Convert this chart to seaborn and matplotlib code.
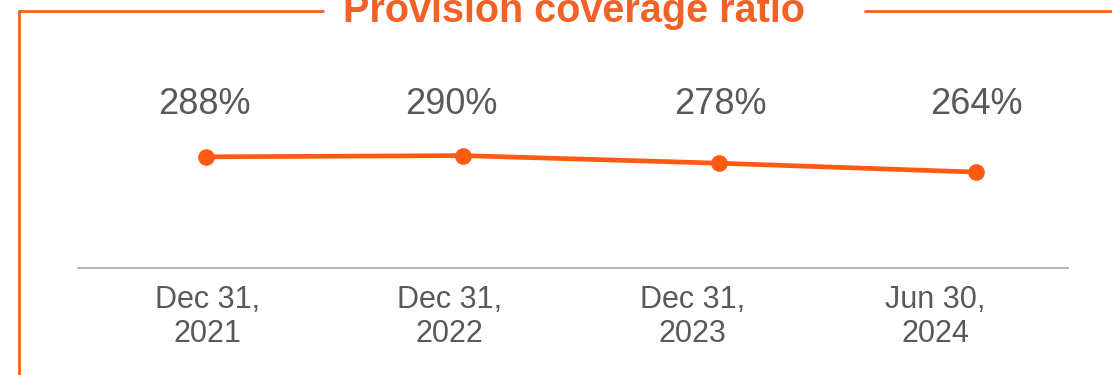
import matplotlib
matplotlib.use("Agg")
import matplotlib.pyplot as plt
from matplotlib.lines import Line2D
from matplotlib.transforms import blended_transform_factory, offset_copy
import seaborn as sns
import pandas as pd

# Provision coverage ratio by reporting date (%)
periods = ["Dec 31,\n2021", "Dec 31,\n2022", "Dec 31,\n2023", "Jun 30,\n2024"]
ratios = [288, 290, 278, 264]
value_labels = ["288%", "290%", "278%", "264%"]
title = "Provision coverage ratio"

# small horizontal nudges (pixels) for the value labels
label_nudge_px = [-2, -11, 1, 1]

ORANGE = "#F26125"
LINE_ORANGE = "#FF5A12"
GRAY_TEXT = "#595959"
GRAY_AXIS = "#A6A6A6"

sns.set_theme(style="white")
plt.rcParams["font.family"] = ["Liberation Sans", "DejaVu Sans"]

W, H = 1112, 375
fig = plt.figure(figsize=(W / 100, H / 100), dpi=100)
fig.patch.set_facecolor("white")


def fx(px):
    return px / W


def fy(py):
    return (H - py) / H


ax = fig.add_axes([fx(78), fy(268), fx(1068) - fx(78), fy(40) - fy(268)])
ax.set_facecolor("none")

df = pd.DataFrame({"pos": range(len(periods)), "ratio": ratios})
sns.lineplot(data=df, x="pos", y="ratio", ax=ax, color=LINE_ORANGE,
             linewidth=3.4, marker="o", markersize=12,
             markeredgewidth=0, markerfacecolor=LINE_ORANGE)

ax.set_xlim(-0.5, 3.36)
ax.set_ylim(113, 472)
ax.set_xticks([])
ax.set_yticks([])
ax.set_xlabel("")
ax.set_ylabel("")

for side in ["top", "left", "right"]:
    ax.spines[side].set_visible(False)
ax.spines["bottom"].set_color(GRAY_AXIS)
ax.spines["bottom"].set_linewidth(1.2)

# Category axis for the date labels
cat = ax.twiny()
cat.set_xlim(-0.532, 3.548)
cat.xaxis.set_ticks_position("bottom")
cat.xaxis.set_label_position("bottom")
cat.set_xticks(range(len(periods)))
cat.set_xticklabels(periods, fontsize=22, color=GRAY_TEXT, linespacing=1.18)
cat.tick_params(axis="x", length=0, pad=12)
for side in ["top", "left", "right", "bottom"]:
    cat.spines[side].set_visible(False)

# Value labels at a common height above the line
trans = blended_transform_factory(ax.transData, fig.transFigure)
for i, lab in enumerate(value_labels):
    t = offset_copy(trans, fig=fig, x=label_nudge_px[i], y=0, units="dots")
    ax.text(i, fy(114), lab, transform=t, ha="center", va="baseline",
            fontsize=26, color=GRAY_TEXT)

# Frame with the title sitting in a gap of the top edge
frame_kw = dict(color=ORANGE, linewidth=2, transform=fig.transFigure)
fig.add_artist(Line2D([fx(18.5), fx(18.5)], [fy(10.5), fy(H + 5)], **frame_kw))
fig.add_artist(Line2D([fx(18.5), fx(323)], [fy(10.5), fy(10.5)], **frame_kw))
fig.add_artist(Line2D([fx(865), fx(W + 5)], [fy(10.5), fy(10.5)], **frame_kw))

fig.text(fx(574), fy(22), title, ha="center", va="baseline",
         fontsize=28.5, fontweight="bold", color=ORANGE)

fig.savefig("out.png", dpi=100, facecolor="white")
